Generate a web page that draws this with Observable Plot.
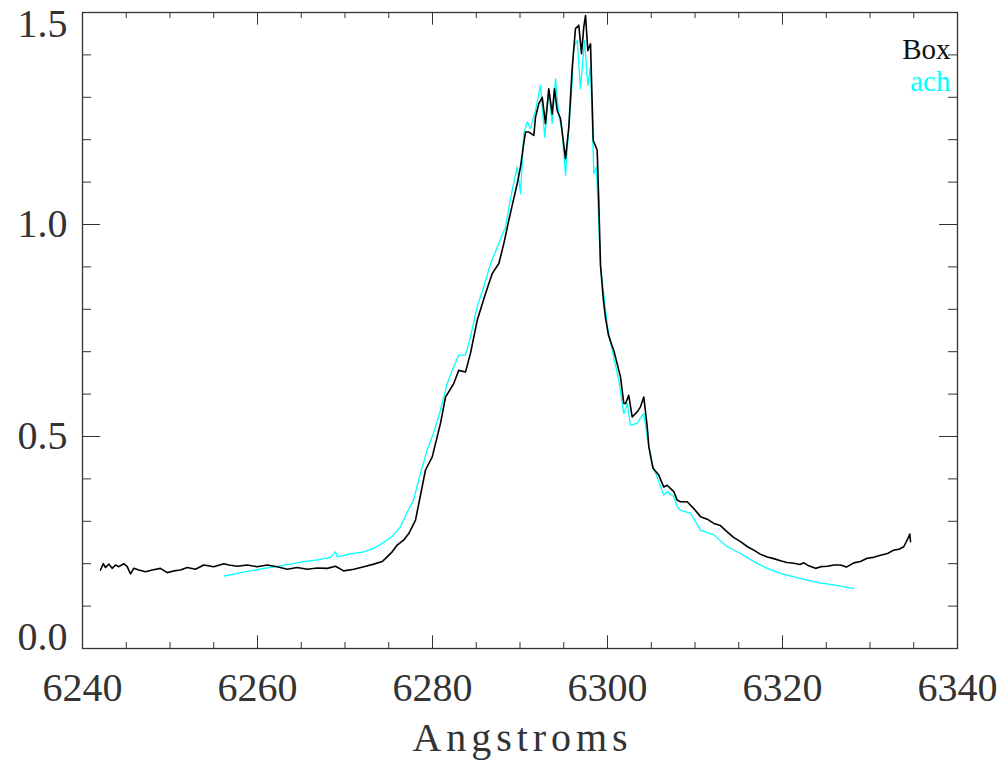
<!DOCTYPE html>
<html><head><meta charset="utf-8">
<script src="https://cdn.jsdelivr.net/npm/d3@7"></script>
<script src="https://cdn.jsdelivr.net/npm/@observablehq/plot@0.6"></script>
<style>body{margin:0;background:#fff}</style>
</head><body><div id="chart"></div><script>
// "Box" spectrum (black)
const boxWave = [6242.06,6242.37,6242.63,6243.01,6243.39,6243.77,6244.15,6244.72,6245.11,6245.49,6245.86,6246.43,6247.2,6247.97,6248.91,6249.68,6250.43,6251.2,6251.97,6252.91,6253.86,6255.0,6256.15,6256.72,6257.68,6258.82,6259.97,6261.11,6262.25,6263.39,6264.54,6265.68,6266.82,6267.97,6268.91,6269.86,6271.01,6272.15,6273.29,6274.25,6274.82,6275.39,6275.97,6276.72,6277.29,6278.06,6278.63,6279.2,6279.97,6280.91,6281.49,6282.43,6283.0,6283.77,6284.34,6285.11,6286.06,6286.82,6287.58,6288.15,6288.72,6289.11,6289.68,6290.06,6290.37,6290.63,6291.01,6291.58,6291.77,6292.15,6292.54,6292.91,6293.29,6293.68,6293.94,6294.25,6294.63,6295.2,6295.58,6295.97,6296.34,6296.72,6297.03,6297.29,6297.49,6297.75,6298.06,6298.37,6298.82,6299.0,6299.2,6299.54,6299.77,6300.1,6300.5,6300.72,6301.49,6301.86,6302.06,6302.43,6302.82,6303.39,6303.77,6304.15,6304.54,6304.72,6305.2,6305.86,6306.43,6306.82,6307.58,6307.96,6308.34,6309.11,6309.86,6310.63,6311.4,6312.15,6312.9,6313.68,6314.4,6315.2,6316.0,6316.72,6317.5,6318.25,6319.0,6319.77,6320.5,6321.29,6322.0,6322.43,6323.0,6323.77,6324.4,6325.11,6325.9,6326.63,6327.3,6328.15,6328.9,6329.68,6330.4,6331.2,6332.0,6332.72,6333.3,6333.86,6334.25,6334.55,6334.63];
const boxFlux = [0.185,0.200,0.191,0.199,0.189,0.197,0.193,0.200,0.193,0.176,0.189,0.185,0.181,0.185,0.189,0.179,0.183,0.185,0.191,0.187,0.197,0.193,0.200,0.197,0.194,0.197,0.193,0.197,0.193,0.187,0.191,0.187,0.190,0.189,0.194,0.183,0.187,0.193,0.199,0.205,0.216,0.228,0.244,0.256,0.271,0.303,0.362,0.421,0.452,0.531,0.593,0.625,0.656,0.652,0.696,0.774,0.837,0.884,0.908,0.955,1.010,1.045,1.096,1.136,1.183,1.218,1.218,1.210,1.253,1.285,1.300,1.238,1.320,1.261,1.320,1.269,1.250,1.155,1.230,1.371,1.462,1.470,1.403,1.466,1.493,1.410,1.426,1.198,1.175,1.057,0.904,0.820,0.780,0.740,0.715,0.703,0.640,0.578,0.578,0.597,0.546,0.558,0.570,0.593,0.523,0.476,0.425,0.409,0.381,0.385,0.370,0.350,0.346,0.346,0.330,0.311,0.305,0.295,0.290,0.275,0.262,0.252,0.240,0.232,0.222,0.216,0.212,0.207,0.203,0.201,0.198,0.202,0.195,0.189,0.193,0.194,0.197,0.197,0.192,0.202,0.205,0.213,0.215,0.220,0.224,0.232,0.234,0.240,0.256,0.270,0.252];
// "ach" spectrum (cyan)
const achWave = [6256.23,6257.68,6259.2,6260.72,6262.25,6263.77,6265.29,6266.82,6268.34,6268.91,6269.11,6270.63,6272.15,6273.29,6274.25,6275.39,6276.34,6276.54,6277.11,6277.83,6278.63,6279.39,6280.11,6280.91,6281.68,6282.25,6283.0,6283.77,6284.34,6285.11,6285.86,6286.63,6287.58,6288.34,6288.91,6289.3,6289.68,6290.06,6290.43,6290.82,6291.2,6291.77,6292.34,6292.83,6293.29,6293.68,6294.06,6294.43,6294.82,6295.2,6295.58,6295.85,6296.15,6296.54,6296.91,6297.37,6297.75,6298.06,6298.44,6298.74,6298.89,6299.2,6299.35,6299.6,6300.0,6300.54,6301.29,6301.86,6302.25,6302.63,6303.39,6303.96,6304.15,6304.54,6305.11,6305.86,6306.43,6306.82,6307.58,6307.96,6308.34,6309.49,6310.63,6312.15,6313.68,6315.2,6316.72,6318.25,6319.77,6321.29,6322.82,6324.34,6325.86,6327.39,6328.15];
const achFlux = [0.171,0.177,0.183,0.189,0.193,0.199,0.205,0.209,0.215,0.228,0.216,0.223,0.228,0.236,0.248,0.264,0.287,0.296,0.322,0.350,0.414,0.468,0.508,0.562,0.625,0.656,0.692,0.692,0.735,0.806,0.853,0.908,0.955,0.994,1.060,1.100,1.136,1.073,1.214,1.242,1.226,1.269,1.328,1.206,1.316,1.238,1.344,1.257,1.222,1.116,1.230,1.297,1.418,1.434,1.320,1.434,1.328,1.371,1.120,1.136,1.057,0.900,0.875,0.830,0.760,0.703,0.633,0.554,0.578,0.527,0.531,0.550,0.554,0.499,0.436,0.393,0.362,0.370,0.358,0.334,0.326,0.319,0.279,0.268,0.240,0.224,0.205,0.189,0.177,0.169,0.161,0.154,0.150,0.144,0.142];

const xMajor = [6240,6260,6280,6300,6320,6340];
const xMinor = [6245,6250,6255,6265,6270,6275,6285,6290,6295,6305,6310,6315,6325,6330,6335];
const yMajor = [0,0.5,1.0,1.5];
const yMinor = [0.1,0.2,0.3,0.4,0.6,0.7,0.8,0.9,1.1,1.2,1.3,1.4];
const seriesNames = ["Box","ach"];
const seriesColors = ["#111","#00ffff"];
const xLabel = "Angstroms";

const box = boxWave.map((w,i)=>({w, f: boxFlux[i]}));
const ach = achWave.map((w,i)=>({w, f: achFlux[i]}));

const W = 1008, H = 763, mL = 82, mR = 51, mT = 12, mB = 115;
const fw = W - mL - mR, fh = H - mT - mB;
const tc = "#333";
const txt = "#333";

const chart = Plot.plot({
  width: W, height: H,
  marginLeft: mL, marginRight: mR, marginTop: mT, marginBottom: mB,
  x: {domain: [6240, 6340], axis: null},
  y: {domain: [0, 1.5], axis: null},
  style: {fontFamily: "'Liberation Serif', serif", background: "#fff"},
  marks: [
    Plot.line(ach, {x: "w", y: "f", stroke: "#00ffff", strokeWidth: 1.3}),
    Plot.line(box, {x: "w", y: "f", stroke: "#000", strokeWidth: 1.6}),
    Plot.frame({stroke: tc, strokeWidth: 1.3}),
    // bottom ticks
    Plot.tickX(xMinor, {x: d => d, insetTop: fh - 6, stroke: tc}),
    Plot.tickX(xMajor, {x: d => d, insetTop: fh - 12.7, stroke: tc}),
    // top ticks
    Plot.tickX(xMinor, {x: d => d, insetBottom: fh - 6, stroke: tc}),
    Plot.tickX(xMajor, {x: d => d, insetBottom: fh - 12.7, stroke: tc}),
    // left ticks
    Plot.tickY(yMinor, {y: d => d, insetRight: fw - 9, stroke: tc}),
    Plot.tickY(yMajor, {y: d => d, insetRight: fw - 18, stroke: tc}),
    // right ticks
    Plot.tickY(yMinor, {y: d => d, insetLeft: fw - 9, stroke: tc}),
    Plot.tickY(yMajor, {y: d => d, insetLeft: fw - 18, stroke: tc}),
    // x tick labels
    Plot.text(xMajor, {x: d => d, text: d => String(d), frameAnchor: "bottom", dy: 40, lineAnchor: "middle", fontSize: 40, fill: txt}),
    // y tick labels
    Plot.text(yMajor.filter(d => d > 0 && d < 1.5), {y: d => d, text: d => d.toFixed(1), frameAnchor: "left", dx: -15, textAnchor: "end", lineAnchor: "middle", fontSize: 40, fill: txt}),
    Plot.text(yMajor.filter(d => d === 1.5), {y: d => d, text: d => d.toFixed(1), frameAnchor: "left", dx: -15, dy: 12, textAnchor: "end", lineAnchor: "middle", fontSize: 40, fill: txt}),
    Plot.text(yMajor.filter(d => d === 0), {y: d => d, text: d => d.toFixed(1), frameAnchor: "left", dx: -15, dy: -11, textAnchor: "end", lineAnchor: "middle", fontSize: 40, fill: txt}),
    // x axis label
    Plot.text([xLabel], {text: d => d, frameAnchor: "bottom", dy: 90, lineAnchor: "middle", fontSize: 40, fill: txt}),
    // legend (one two-line block; second line coloured below)
    Plot.text([seriesNames.join("\n")], {text: d => d, frameAnchor: "top-right", dx: -7, dy: 23.4, textAnchor: "end", lineAnchor: "top", lineHeight: 1.12, fontSize: 29, fill: seriesColors[0]})
  ]
});
document.getElementById("chart").appendChild(chart);
// stretch the axis title to the reference width
d3.select(chart).selectAll("text").filter(function(){ return this.textContent === xLabel; })
  .attr("textLength", 215).attr("lengthAdjust", "spacing");
// colour the legend lines by series
d3.select(chart).selectAll("tspan").each(function(){
  const i = seriesNames.indexOf(this.textContent);
  if (i >= 0) d3.select(this).attr("fill", seriesColors[i]);
});
</script></body></html>
